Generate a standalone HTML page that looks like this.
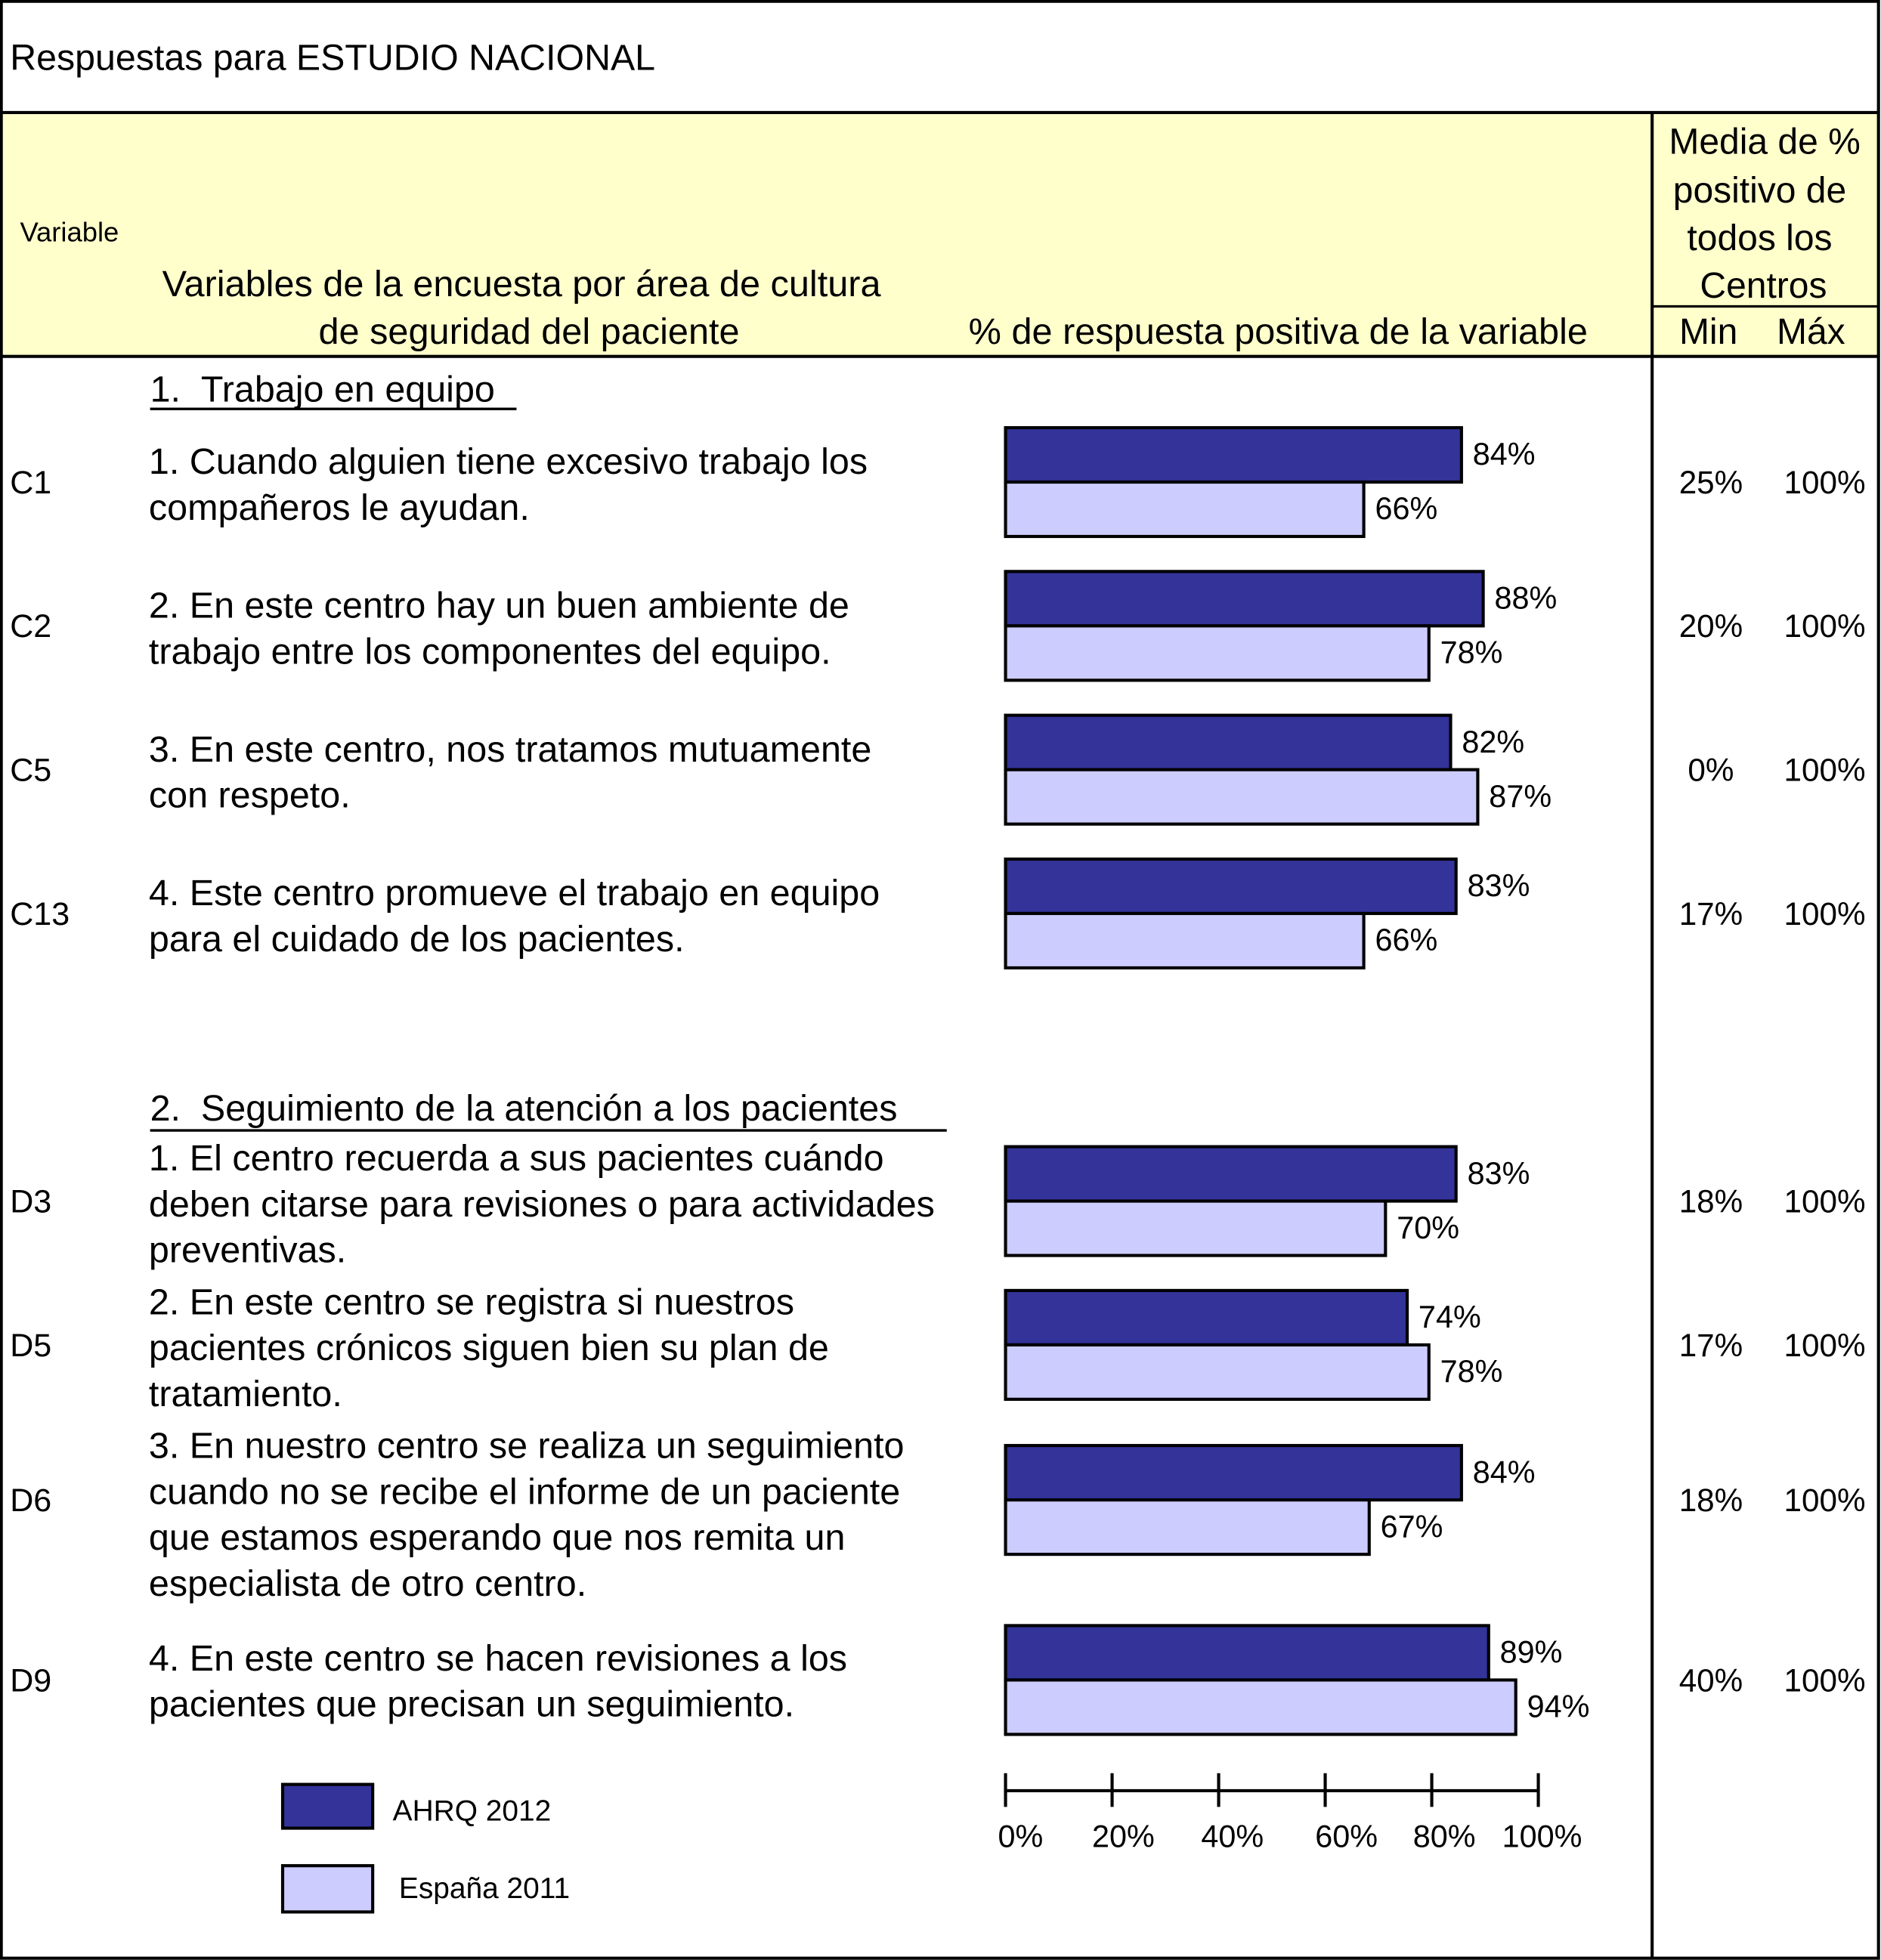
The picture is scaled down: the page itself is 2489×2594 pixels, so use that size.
<!DOCTYPE html>
<html><head><meta charset="utf-8"><style>
html,body{margin:0;padding:0;background:#fff}
svg{display:block;font-family:"Liberation Sans",Arial,sans-serif}
</style></head><body>
<svg id="chart" width="2489" height="2594" viewBox="0 0 1504 1567.4" xmlns="http://www.w3.org/2000/svg">
<rect x="1" y="90" width="1501" height="195" fill="#FFFFCC"/>
<rect x="1" y="1" width="1501" height="1565" fill="none" stroke="#000" stroke-width="2.5"/>
<line x1="1" y1="90" x2="1502" y2="90" stroke="#000" stroke-width="2.5"/>
<line x1="1" y1="285" x2="1502" y2="285" stroke="#000" stroke-width="2.5"/>
<line x1="1321" y1="90" x2="1321" y2="1566" stroke="#000" stroke-width="2.5"/>
<line x1="1321" y1="245" x2="1502" y2="245" stroke="#000" stroke-width="2"/>
<text x="8" y="56" font-size="29.2">Respuestas para ESTUDIO NACIONAL</text>
<text x="16" y="193" font-size="22">Variable</text>
<g font-size="29.4" text-anchor="middle">
<text x="417" y="237">Variables de la encuesta por área de cultura</text>
<text x="423" y="275">de seguridad del paciente</text></g>
<text x="1022" y="275" font-size="29.4" text-anchor="middle">% de respuesta positiva de la variable</text>
<g font-size="29" text-anchor="middle">
<text x="1411" y="123">Media de %</text><text x="1407" y="162">positivo de</text>
<text x="1407" y="200">todos los</text><text x="1410" y="238">Centros</text>
<text x="1366" y="275">Min</text><text x="1448" y="275">Máx</text></g>
<g id="body" font-size="29.3"></g>
<g id="bars"></g>
<g id="axis"></g>
<g>
<rect x="226" y="1427" width="72" height="35" fill="#333399" stroke="#000" stroke-width="2.5"/>
<text x="314" y="1456" font-size="23.5">AHRQ 2012</text>
<rect x="226" y="1492" width="72" height="37" fill="#CCCCFF" stroke="#000" stroke-width="2.5"/>
<text x="319" y="1518" font-size="23.5">España 2011</text></g>
</svg>
<script>
const codes=["C1","C2","C5","C13","D3","D5","D6","D9"];
const ahrq=[84,88,82,83,83,74,84,89];
const espana=[66,78,87,66,70,78,67,94];
const minVals=["25%","20%","0%","17%","18%","17%","18%","40%"];
const maxVals=["100%","100%","100%","100%","100%","100%","100%","100%"];
const tickVals=[0,20,40,60,80,100];
const descriptions=[
["1. Cuando alguien tiene excesivo trabajo los","compañeros le ayudan."],
["2. En este centro hay un buen ambiente de","trabajo entre los componentes del equipo."],
["3. En este centro, nos tratamos mutuamente","con respeto."],
["4. Este centro promueve el trabajo en equipo","para el cuidado de los pacientes."],
["1. El centro recuerda a sus pacientes cuándo","deben citarse para revisiones o para actividades","preventivas."],
["2. En este centro se registra si nuestros","pacientes crónicos siguen bien su plan de","tratamiento."],
["3. En nuestro centro se realiza un seguimiento","cuando no se recibe el informe de un paciente","que estamos esperando que nos remita un","especialista de otro centro."],
["4. En este centro se hacen revisiones a los","pacientes que precisan un seguimiento."]];
const NS="http://www.w3.org/2000/svg";
const barTops=[342,457,572,687,917,1032,1156,1300];
const textTops=[369,484,599,714,926,1041,1156,1326];
function xBar(v){return 804+v*4.34;}
function xAxis(v){return 804+v*4.26;}
function mk(tag,attrs,parent,txt){const e=document.createElementNS(NS,tag);for(const k in attrs)e.setAttribute(k,attrs[k]);if(txt!==undefined)e.textContent=txt;parent.appendChild(e);return e;}
const body=document.getElementById('body'),bars=document.getElementById('bars'),axis=document.getElementById('axis');
let s1=mk('text',{x:120,y:321},body,"1.\u00a0\u00a0Trabajo en equipo");


mk('line',{x1:120,y1:327,x2:413,y2:327,stroke:'#000','stroke-width':2},body);
let s2=mk('text',{x:120,y:896},body,"2.\u00a0\u00a0Seguimiento de la atención a los pacientes");


mk('line',{x1:120,y1:904,x2:757,y2:904,stroke:'#000','stroke-width':2},body);
codes.forEach((c,i)=>{
  const top=barTops[i],h=43.5,mid=top+h;
  const ct=mk('text',{x:8,y:mid+9,'font-size':26},body,c);
  
  
  descriptions[i].forEach((l,j)=>{
    const t=mk('text',{x:119,y:textTops[i]+10+j*36.7},body,l);
    
    
  });
  const mn=mk('text',{x:1368,y:mid+9,'font-size':25.5,'text-anchor':'middle'},body,minVals[i]);
  
  
  const mx=mk('text',{x:1459,y:mid+9,'font-size':25.5,'text-anchor':'middle'},body,maxVals[i]);
  
  
  [[ahrq[i],'#333399',top,'ahrq'],[espana[i],'#CCCCFF',top+h,'espana']].forEach(([v,col,y,n])=>{
    const r=mk('rect',{x:xBar(0),y:y,width:xBar(v)-xBar(0),height:h,fill:col,stroke:'#000','stroke-width':2.5},bars);
    
    
    const t=mk('text',{x:xBar(v)+9,y:y+h/2+8,'font-size':25},bars,v+'%');
    
    
  });
});
const al=mk('line',{x1:xAxis(0),y1:1432,x2:xAxis(100),y2:1432,stroke:'#000','stroke-width':2.5},axis);


tickVals.forEach(v=>{
  mk('line',{x1:xAxis(v),y1:1418,x2:xAxis(v),y2:1445,stroke:'#000','stroke-width':2.5},axis);
  const t=mk('text',{x:xAxis(v)+(v===0?12:v===100?3:v===80?10:v===40?11:v===60?17:v===20?9:0),y:1477,'font-size':25,'text-anchor':'middle'},axis,v+'%');
  
  
});
</script>
</body></html>
